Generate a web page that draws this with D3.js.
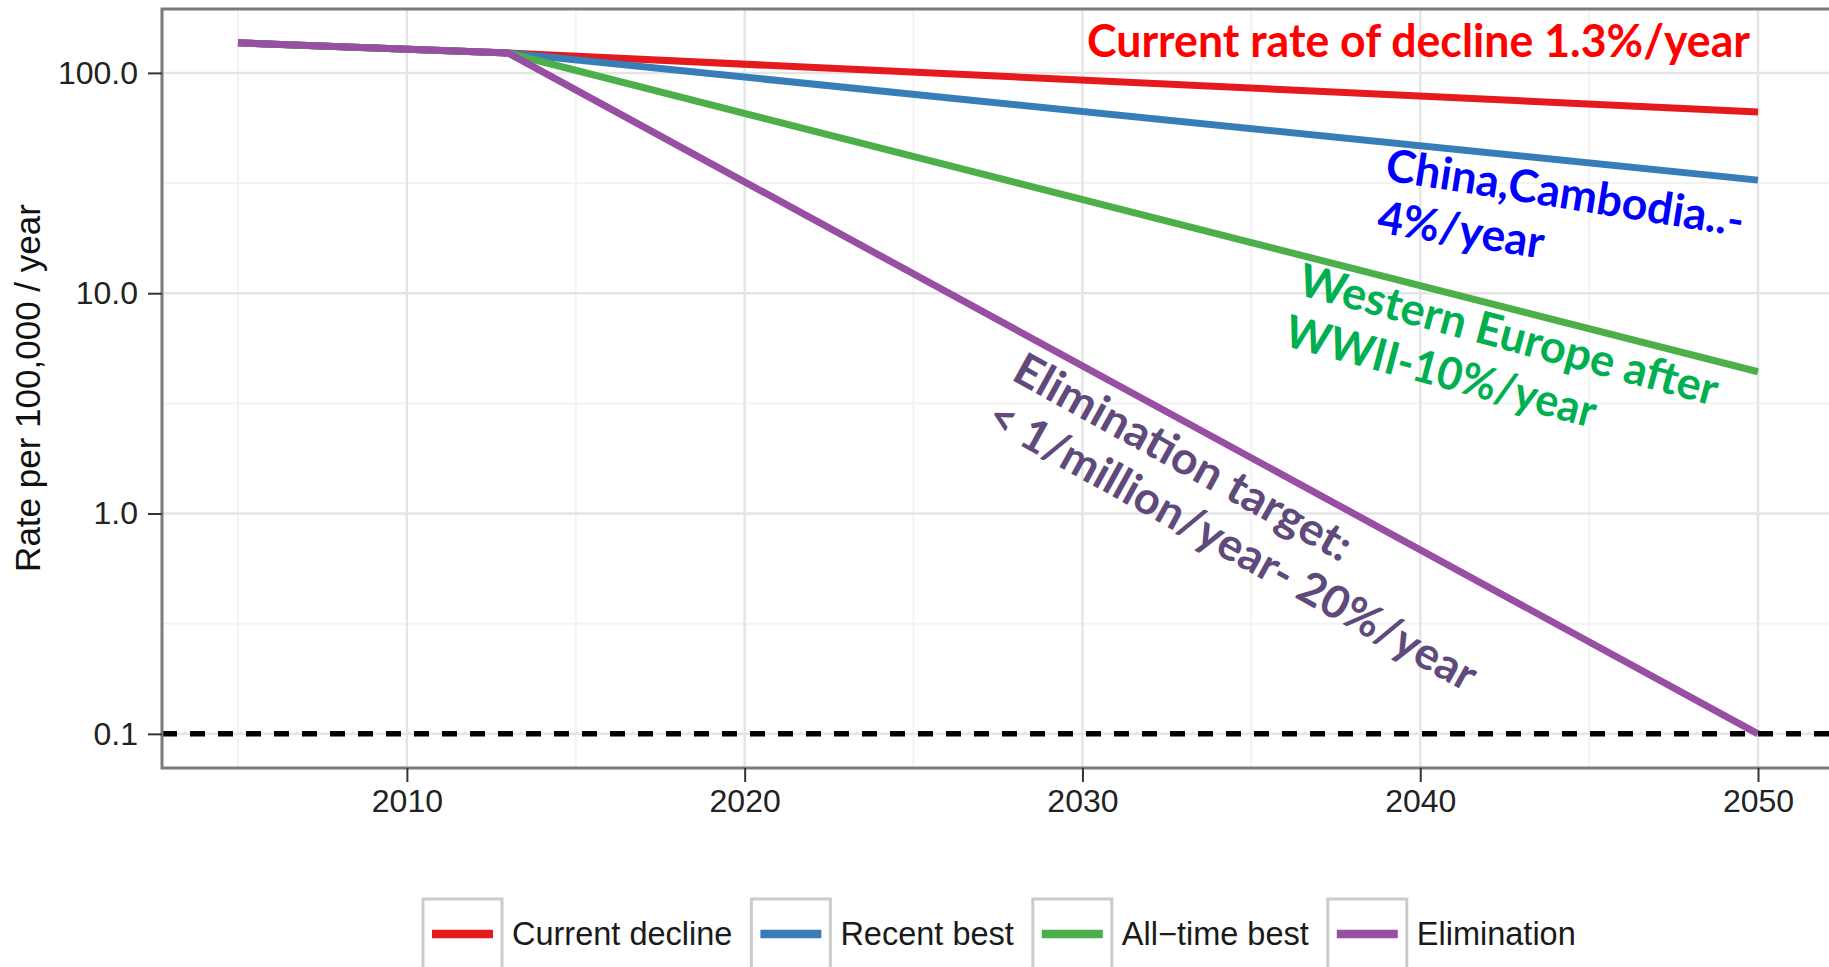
<!DOCTYPE html>
<html>
<head>
<meta charset="utf-8">
<script src="https://cdn.jsdelivr.net/npm/d3@7/dist/d3.min.js"></script>
<style>
  body { margin: 0; background: #fff; }
  svg text { font-family: "Liberation Sans", Arial, sans-serif; }
  .note { font-family: Lato, "Open Sans", sans-serif !important; font-weight: bold; }
</style>
</head>
<body>
<script>
// values (rate per 100,000 / year)
var years = [2005, 2013, 2050];
var seriesNames = ["Current decline", "Recent best", "All\u2212time best", "Elimination"];
var currentDecline = [137, 123, 66.5];
var recentBest = [137, 123, 32.6];
var allTimeBest = [137, 123, 4.4];
var elimination = [137, 123, 0.1];
var targetRate = 0.1;

var yTicks = [0.1, 1, 10, 100];
var yTickLabels = ["0.1", "1.0", "10.0", "100.0"];
var yMinor = [0.316, 3.16, 31.6];
var xTicks = [2010, 2020, 2030, 2040, 2050];
var xMinor = [2005, 2015, 2025, 2035, 2045];

var colors = ["#e41a1c", "#377eb8", "#4daf4a", "#984ea3"];

// annotation texts (added on top of the chart)
var noteLines = [
  ["Current rate of decline 1.3%/year"],
  ["China,Cambodia..-", "4%/year"],
  ["Western Europe after", "WWII-10%/year"],
  ["Elimination target:", "< 1/million/year- 20%/year"]
];
var noteColors = ["#ff0000", "#0000ff", "#00b050", "#604a7b"];
// placement: anchor of first baseline, rotation, width of each line
var notePlace = [
  {x: 1087, y: 57, angle: 0, widths: [663]},
  {x: 1384, y: 180, angle: 9, widths: [362, 168]},
  {x: 1296, y: 294, angle: 15, widths: [432, 320]},
  {x: 1010, y: 379, angle: 29, widths: [379, 551]}
];

var W = 1829, H = 967;
var panel = {left: 162, top: 9, right: 1834, bottom: 768};

var svg = d3.select("body").append("svg")
  .attr("width", W)
  .attr("height", H);

var x = d3.scaleLinear()
  .domain([2002.75, 2052.25])
  .range([panel.left, panel.right]);

var y = d3.scaleLog()
  .domain([Math.pow(10, -1.155), Math.pow(10, 2.29)])
  .range([panel.bottom, panel.top]);

// grid lines, minor first
var grid = svg.append("g");
function hGrid(vals, col, w) {
  grid.selectAll(null).data(vals).enter().append("line")
    .attr("x1", panel.left).attr("x2", panel.right)
    .attr("y1", function(d) { return y(d); })
    .attr("y2", function(d) { return y(d); })
    .attr("stroke", col).attr("stroke-width", w);
}
function vGrid(vals, col, w) {
  grid.selectAll(null).data(vals).enter().append("line")
    .attr("y1", panel.top).attr("y2", panel.bottom)
    .attr("x1", function(d) { return x(d); })
    .attr("x2", function(d) { return x(d); })
    .attr("stroke", col).attr("stroke-width", w);
}
hGrid(yMinor, "#f3f3f3", 2);
vGrid(xMinor, "#f3f3f3", 2);
hGrid(yTicks, "#e5e5e5", 2.5);
vGrid(xTicks, "#e5e5e5", 2.5);

// the series
var series = [currentDecline, recentBest, allTimeBest, elimination].map(function(v, i) {
  return {name: seriesNames[i], values: v, color: colors[i]};
});

var line = d3.line()
  .x(function(d, i) { return x(years[i]); })
  .y(function(d) { return y(d); });

svg.append("g").selectAll("path")
  .data(series)
  .enter()
  .append("path")
    .attr("d", function(d) { return line(d.values); })
    .attr("fill", "none")
    .attr("stroke", function(d) { return d.color; })
    .attr("stroke-width", 7);

// elimination threshold
svg.append("line")
  .attr("x1", panel.left).attr("x2", panel.right)
  .attr("y1", y(targetRate)).attr("y2", y(targetRate))
  .attr("stroke", "#000")
  .attr("stroke-width", 5.5)
  .attr("stroke-dasharray", "15,13");

// panel border
svg.append("rect")
  .attr("x", panel.left).attr("y", panel.top)
  .attr("width", panel.right - panel.left)
  .attr("height", panel.bottom - panel.top)
  .attr("fill", "none")
  .attr("stroke", "#7a7a7a")
  .attr("stroke-width", 3);

// axes
var xAxis = svg.append("g")
  .attr("transform", "translate(0," + panel.bottom + ")")
  .call(d3.axisBottom(x).tickValues(xTicks).tickFormat(d3.format("d")).tickSize(14).tickPadding(7));

var yAxis = svg.append("g")
  .attr("transform", "translate(" + panel.left + ",0)")
  .call(d3.axisLeft(y).tickValues(yTicks)
    .tickFormat(function(d, i) { return yTickLabels[i]; })
    .tickSize(14).tickPadding(10));

[xAxis, yAxis].forEach(function(a) {
  a.select(".domain").remove();
  a.attr("font-family", null).attr("font-size", null);
  a.selectAll(".tick line").attr("stroke", "#333").attr("stroke-width", 2);
  a.selectAll(".tick text").attr("font-size", 32).attr("fill", "#222");
});

svg.append("text")
  .attr("transform", "translate(40,388) rotate(-90)")
  .attr("text-anchor", "middle")
  .attr("font-size", 35)
  .attr("fill", "#111")
  .text("Rate per 100,000 / year");

// legend
var lx = 423;
series.forEach(function(s) {
  var g = svg.append("g").attr("transform", "translate(" + lx + ",899)");
  g.append("rect")
    .attr("width", 79).attr("height", 100)
    .attr("fill", "#fff")
    .attr("stroke", "#cbcbcb")
    .attr("stroke-width", 3);
  g.append("line")
    .attr("x1", 9).attr("x2", 70)
    .attr("y1", 35).attr("y2", 35)
    .attr("stroke", s.color)
    .attr("stroke-width", 8.5);
  var t = g.append("text")
    .attr("x", 89).attr("y", 46)
    .attr("font-size", 32.5)
    .attr("fill", "#1a1a1a")
    .text(s.name);
  lx += 79 + 10 + t.node().getComputedTextLength() + 19;
});

// annotations
noteLines.forEach(function(lines, i) {
  var p = notePlace[i];
  var g = svg.append("g")
    .attr("transform", "translate(" + p.x + "," + p.y + ") rotate(" + p.angle + ")");
  lines.forEach(function(l, j) {
    g.append("text")
      .attr("class", "note")
      .attr("x", 0).attr("y", j * 53)
      .attr("font-size", 45)
      .attr("fill", noteColors[i])
      .attr("textLength", p.widths[j])
      .attr("lengthAdjust", "spacingAndGlyphs")
      .text(l);
  });
});
</script>
</body>
</html>
